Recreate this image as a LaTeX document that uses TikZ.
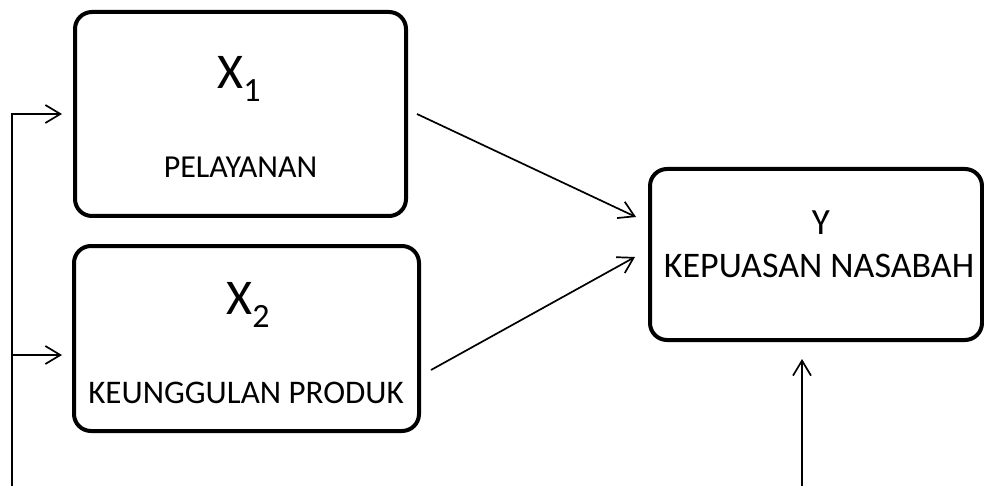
\documentclass[tikz,border=0pt]{standalone}
\usepackage{fontspec}
\setmainfont{Carlito}
\usetikzlibrary{arrows.meta}
\begin{document}
\begin{tikzpicture}[x=1pt,y=-1pt,
  box/.style={draw=black,line width=4pt,rounded corners=17pt,inner sep=0pt},
  arr/.style={draw=black,line width=1.7pt,-{Straight Barb[length=15pt,width=18pt,line width=1.7pt]}},
  lbl/.style={anchor=base,inner sep=0pt,text=black}]
\useasboundingbox (0,0) rectangle (984,486);
\fill[white] (0,0) rectangle (984,486);
% boxes
\node[box,minimum width=331pt,minimum height=204pt] (x1) at (240.5,114) {};
\node[box,minimum width=345pt,minimum height=185pt] (x2) at (246.5,338.5) {};
\node[box,minimum width=332pt,minimum height=171pt] (y) at (816,254.5) {};
% texts
\node[lbl] (x1a) at (239,89) {\fontsize{50}{60}\selectfont X\raisebox{-13pt}{\fontsize{34}{40}\selectfont 1}};
\node[lbl] (x1b) at (240.5,178) {\fontsize{32}{38}\selectfont PELAYANAN};
\node[lbl] (x2a) at (248,314) {\fontsize{50}{60}\selectfont X\raisebox{-13pt}{\fontsize{34}{40}\selectfont 2}};
\node[lbl] (x2b) at (246,403) {\fontsize{33}{40}\selectfont KEUNGGULAN PRODUK};
\node[lbl] (ya) at (821,235) {\fontsize{37}{44}\selectfont Y};
\node[lbl] (yb) at (819,277) {\fontsize{36}{43}\selectfont KEPUASAN NASABAH};
% connectors
\draw[arr] ([xshift=9pt]x1.east) -- ([xshift=-12pt,yshift=37.5pt]y.west);
\draw[arr] ([xshift=10pt,yshift=-31.5pt]x2.east) -- ([xshift=-13pt,yshift=-2.5pt]y.west);
\coordinate (bl) at (12,490);
\coordinate (t1) at ([xshift=-11pt]x1.west);
\coordinate (t2) at ([xshift=-10pt,yshift=-16.5pt]x2.west);
\draw[arr] (bl) |- (t1);
\draw[arr] (bl |- t2) -- (t2);
\coordinate (br) at (802,490);
\coordinate (t3) at ([xshift=-14pt,yshift=-17pt]y.south);
\draw[arr] (br) -- (t3);
\end{tikzpicture}
\end{document}
